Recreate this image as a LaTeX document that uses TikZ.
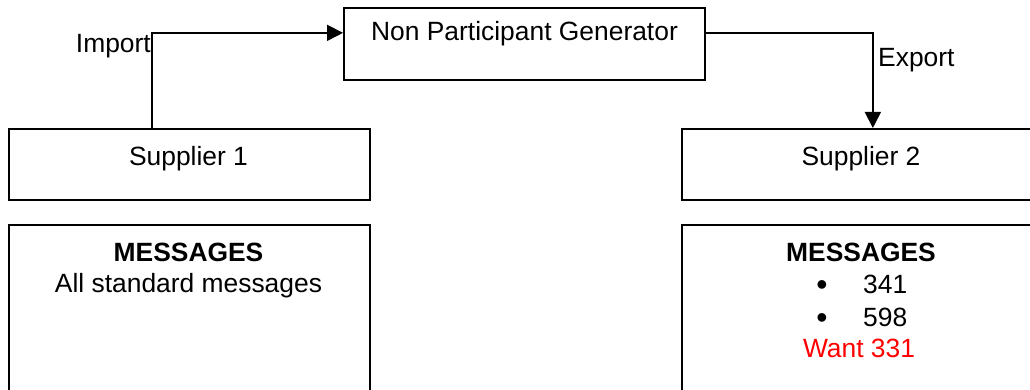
\documentclass[tikz,border=0pt]{standalone}
\usepackage{fontspec}
\setmainfont{Liberation Sans}
\usetikzlibrary{arrows.meta}
\begin{document}
\begin{tikzpicture}[x=1pt,y=-1pt,
  box/.style={draw,line width=1.7pt,rectangle,inner sep=0pt,anchor=north west},
  lbl/.style={anchor=base,inner sep=0pt,font=\fontsize{26.4}{31.5}\selectfont},
  conn/.style={line width=1.7pt},
  arr/.style={conn,-{Triangle[length=16pt,width=16pt]}}]
\clip (0,0) rectangle (1030,390);
\useasboundingbox (0,0) rectangle (1030,390);
% boxes
\node[box,minimum width=361pt,minimum height=72pt] (npg) at (343,7) {};
\node[box,minimum width=361pt,minimum height=71pt] (s1) at (8,128) {};
\node[box,minimum width=360pt,minimum height=71pt] (s2) at (681,128) {};
\node[box,minimum width=361pt,minimum height=190pt] (m1) at (8,224) {};
\node[box,minimum width=360pt,minimum height=190pt] (m2) at (681,224) {};
% texts
\node[lbl] (npgt) at (524.5,41) {Non Participant Generator};
\node[lbl] (s1t) at (188.5,166) {Supplier 1};
\node[lbl] (s2t) at (861,166) {Supplier 2};
\node[lbl,font=\fontsize{26.4}{31.5}\selectfont\bfseries] (m1h) at (188.5,261) {MESSAGES};
\node[lbl] (m1t) at (188.5,292) {All standard messages};
\node[lbl,font=\fontsize{26.4}{31.5}\selectfont\bfseries] (m2h) at (861,261) {MESSAGES};
\node[lbl,font=\fontsize{32}{32}\selectfont] (b1) at (822,295) {•};
\node[lbl,anchor=base west] (n1) at (863,293) {341};
\node[lbl,font=\fontsize{32}{32}\selectfont] (b2) at (822,328) {•};
\node[lbl,anchor=base west] (n2) at (863,326) {598};
\node[lbl,text=red] (want) at (859,357) {Want 331};
% connectors
\draw[arr] ([xshift=144pt]s1.north west) |- ([yshift=11pt]npg.west);
\draw[arr] ([yshift=11pt]npg.east) -| ([xshift=11pt]s2.north);
\node[lbl,anchor=base east] (imp) at (151,53) {Import};
\node[lbl,anchor=base west] (exp) at (878,67) {Export};
\end{tikzpicture}
\end{document}
